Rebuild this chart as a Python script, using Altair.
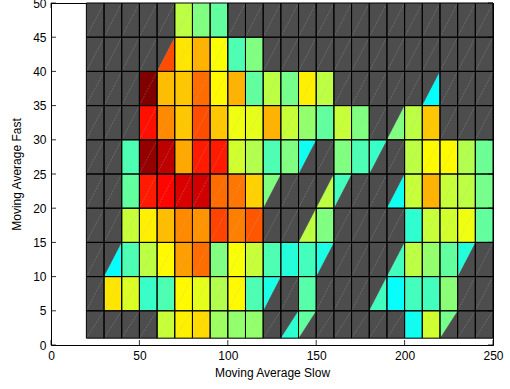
import altair as alt
import pandas as pd

# Grid of parameter combinations: slow window along x, fast window along y
x_edges = list(range(20, 260, 10))
y_edges = [1, 5, 10, 15, 20, 25, 30, 35, 40, 45, 50]

N = None
# Colour value per cell (jet position, 0..1); rows from top (45-50) to bottom (1-5)
scores = [
    [N, N, N, N, N, .56, .50, .47, N, N, N, N, N, N, N, N, N, N, N, N, N, N, N],
    [N, N, N, N, .80, .65, .70, .62, .45, .50, N, N, N, N, N, N, N, N, N, N, N, N, N],
    [N, N, N, 1.0, .69, .68, .77, .63, .70, .47, .56, .49, .64, .56, N, N, N, N, N, .38, N, N, N],
    [N, N, N, .86, .74, .68, .80, .68, .61, .60, .70, .57, .52, .47, .57, .50, N, .50, .56, .68, N, N, N],
    [N, N, .45, .98, .94, .71, .85, .85, .58, .55, .45, .50, .39, N, .50, .45, .43, N, .56, .63, .63, .55, .48],
    [N, N, .47, .85, .87, .91, .92, .77, .76, .67, .50, N, N, .56, .44, N, N, .39, .57, .70, .57, .56, .49],
    [N, N, .57, .64, .69, .74, .73, .81, .75, .79, N, N, .56, .50, N, N, N, N, .42, .57, .58, .61, .47],
    [N, .38, .45, .56, .63, .72, .77, .50, .62, .57, .45, .41, .44, .40, N, N, N, .44, .56, .52, .47, .41, N],
    [N, .65, .59, .43, .45, .63, .60, .55, .63, .45, .40, N, .46, N, N, N, .44, .38, .44, .44, .51, N, N],
    [N, N, N, N, .57, .64, .66, .53, .52, .52, N, .42, .47, N, N, N, N, N, .39, .58, .49, N, N],
]
# Face type: F full cell, L lower-right triangle, U upper-left triangle, . empty
faces = [
    ".....FFF...............",
    "....LFFFFF.............",
    "...FFFFFFFFFFF.....L...",
    "...FFFFFFFFFFFFF.LFF...",
    "..FFFFFFFFFFU.FFU.FFFFF",
    "..FFFFFFFFU..LU..LFFFFF",
    "..FFFFFFFF..LF....FFFFF",
    ".LFFFFFFFFFFFU...LFFFU.",
    ".FFFFFFFFFU.F...LFFFF..",
    "....FFFFFF.LU.....FFU..",
]

x_ticks = [0, 50, 100, 150, 200, 250]
y_ticks = [0, 5, 10, 15, 20, 25, 30, 35, 40, 45, 50]

n_rows = len(scores)
cells, full, tris = [], [], []
for r in range(n_rows):
    y0, y1 = y_edges[n_rows - 1 - r], y_edges[n_rows - r]
    for c, kind in enumerate(faces[r]):
        x0, x1 = x_edges[c], x_edges[c + 1]
        cells.append({"x0": x0, "x1": x1, "y0": y0, "y1": y1})
        v = scores[r][c]
        if kind == "F":
            full.append({"x0": x0, "x1": x1, "y0": y0, "y1": y1, "v": v})
        elif kind == "L":
            tid = f"{r}-{c}"
            tris.append({"tid": tid, "x": x0, "y": y0, "yb": y0, "v": v})
            tris.append({"tid": tid, "x": x1, "y": y1, "yb": y0, "v": v})
        elif kind == "U":
            tid = f"{r}-{c}"
            tris.append({"tid": tid, "x": x0, "y": y1, "yb": y0, "v": v})
            tris.append({"tid": tid, "x": x1, "y": y1, "yb": y1, "v": v})

cells_df = pd.DataFrame(cells)
full_df = pd.DataFrame(full)
tri_df = pd.DataFrame(tris)
xt_df = pd.DataFrame({"t": x_ticks})
yt_df = pd.DataFrame({"t": y_ticks})

W, H = 442, 342
FONT = "Liberation Sans"
jet = alt.Scale(
    domain=[0.375, 0.5, 0.625, 0.75, 0.875, 1.0],
    range=["#00ffff", "#80ff80", "#ffff00", "#ff8000", "#ff0000", "#800000"],
    interpolate="rgb",
)

axis_style = dict(grid=False, ticks=False, tickSize=0, labelPadding=5,
                  labelOverlap=False, labelFlush=False,
                  domainColor="black", labelColor="black", titleColor="black",
                  labelFont=FONT, titleFont=FONT, labelFontSize=12,
                  titleFontSize=12, titleFontWeight="normal")


def X(field, **kw):
    return alt.X(field, scale=alt.Scale(domain=[0, 250], nice=False, zero=False),
                 axis=alt.Axis(values=x_ticks, title="Moving Average Slow",
                               titlePadding=6, **axis_style), **kw)


def Y(field, **kw):
    return alt.Y(field, scale=alt.Scale(domain=[0, 50], nice=False, zero=False),
                 axis=alt.Axis(values=y_ticks, title="Moving Average Fast",
                               titlePadding=9, **axis_style), **kw)


background = alt.Chart(cells_df).mark_rect(color="#4d4d4d").encode(
    x=X("x0:Q"), x2="x1:Q", y=Y("y0:Q"), y2="y1:Q",
)

filled = alt.Chart(full_df).mark_rect().encode(
    x=X("x0:Q"), x2="x1:Q", y=Y("y0:Q"), y2="y1:Q",
    color=alt.Color("v:Q", scale=jet, legend=None),
)

halves = alt.Chart(tri_df).mark_area(interpolate="linear").encode(
    x=X("x:Q"), y=Y("y:Q", stack=None), y2="yb:Q",
    color=alt.Color("v:Q", scale=jet, legend=None),
    detail="tid:N",
)

diagonals = alt.Chart(cells_df).mark_rule(
    color="#a8bcc0", opacity=0.35, strokeWidth=0.8, strokeDash=[2, 1]
).encode(x=X("x0:Q"), x2="x1:Q", y=Y("y0:Q"), y2="y1:Q")

edges = alt.Chart(cells_df).mark_rect(
    fillOpacity=0, stroke="black", strokeWidth=1
).encode(x=X("x0:Q"), x2="x1:Q", y=Y("y0:Q"), y2="y1:Q")

tick_style = dict(color="black", strokeWidth=0.8)
ticks_bottom = alt.Chart(xt_df).mark_rule(**tick_style).encode(
    x=X("t:Q"), y=alt.value(H), y2=alt.value(H - 5))
ticks_top = alt.Chart(xt_df).mark_rule(**tick_style).encode(
    x=X("t:Q"), y=alt.value(0), y2=alt.value(5))
ticks_left = alt.Chart(yt_df).mark_rule(**tick_style).encode(
    y=Y("t:Q"), x=alt.value(0), x2=alt.value(5))
ticks_right = alt.Chart(yt_df).mark_rule(**tick_style).encode(
    y=Y("t:Q"), x=alt.value(W), x2=alt.value(W - 5))

chart = alt.layer(
    background, filled, halves, diagonals, edges,
    ticks_bottom, ticks_top, ticks_left, ticks_right,
).properties(
    width=W, height=H,
    autosize=alt.AutoSizeParams(type="none"),
    padding={"left": 51, "top": 3, "right": 17, "bottom": 44},
    background="white",
).configure_view(stroke="black", strokeWidth=1)

chart.save("out.html", embed_options={"renderer": "svg", "actions": False})
